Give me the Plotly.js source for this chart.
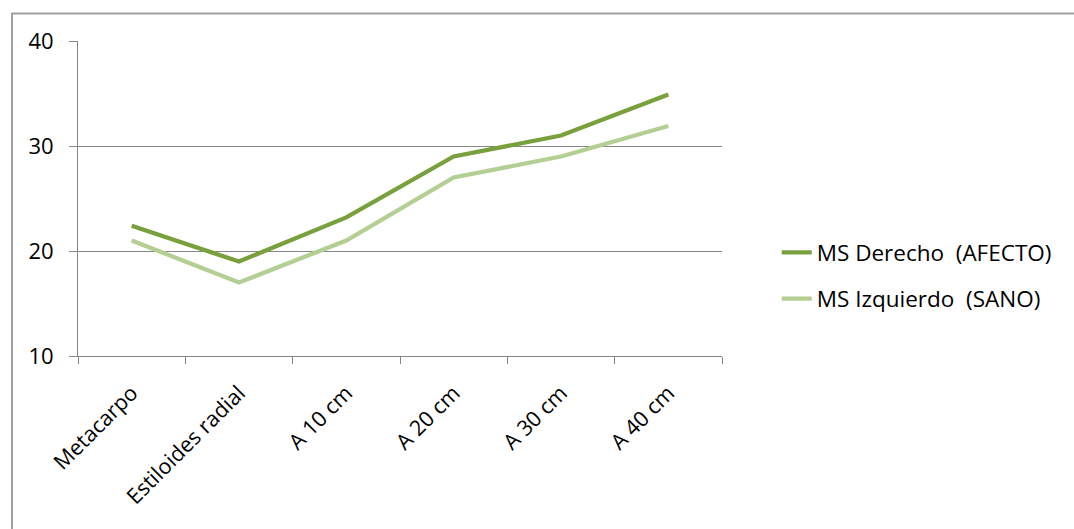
<!DOCTYPE html>
<html>
<head>
<meta charset="utf-8">
<script src="https://cdn.plot.ly/plotly-3.0.1.min.js"></script>
<style>html,body{margin:0;padding:0;background:#fff;}#chart{width:1074px;height:529px;}</style>
</head>
<body>
<div id="chart"></div>
<script>
const categories = ["Metacarpo", "Estiloides radial", "A 10 cm", "A 20 cm", "A 30 cm", "A 40 cm"];
const derecho = [22.4, 19, 23.2, 29, 31, 34.9];
const izquierdo = [21, 17, 21, 27, 29, 31.9];
const seriesNames = ["MS Derecho \u00A0(AFECTO)", "MS Izquierdo \u00A0(SANO)"];
const yTicks = [10, 20, 30, 40];

const font = "Open Sans, Noto Sans, sans-serif";
const traces = [
  {x: categories, y: derecho, name: seriesNames[0], type: "scatter", mode: "lines", legendgroup: "a",
   line: {color: "#78A03C", width: 4.3}},
  {x: categories, y: izquierdo, name: seriesNames[1], type: "scatter", mode: "lines", legendgroup: "b",
   line: {color: "#B4CF93", width: 4.3}}
];
const layout = {
  width: 1074, height: 529,
  margin: {l: 78, r: 352, t: 41, b: 173},
  paper_bgcolor: "#fff", plot_bgcolor: "#fff",
  font: {family: font, size: 20, color: "#000"},
  showlegend: true,
  legend: {x: 1.085, xanchor: "left", y: 0.255, yanchor: "middle", traceorder: "grouped",
    font: {family: font, size: 22.5, color: "#000"}, tracegroupgap: 14, itemwidth: 30},
  xaxis: {type: "category", range: [-0.5, 5.5], tickangle: -45, tickson: "boundaries", ticks: "outside",
    ticklen: 7, tickcolor: "#868686", showline: true, linecolor: "#868686", linewidth: 1,
    showgrid: false, tickfont: {family: font, size: 21.5}, ticklabelstandoff: 15, fixedrange: true},
  yaxis: {range: [10, 40], tickvals: yTicks, ticks: "outside", ticklen: 8, tickcolor: "#868686",
    showline: true, linecolor: "#868686", linewidth: 1, showgrid: true, gridcolor: "#868686",
    gridwidth: 1, zeroline: false, tickfont: {family: font, size: 22}, ticklabelstandoff: 11},
  shapes: [{type: "rect", xref: "paper", yref: "paper",
    x0: (12 - 78) / 644, x1: (1080 - 78) / 644, y0: (356 - 540) / 315, y1: (356 - 13.5) / 315,
    line: {color: "#A0A0A0", width: 2}, layer: "below"}]
};
Plotly.newPlot("chart", traces, layout, {displayModeBar: false, staticPlot: true});
</script>
</body>
</html>
